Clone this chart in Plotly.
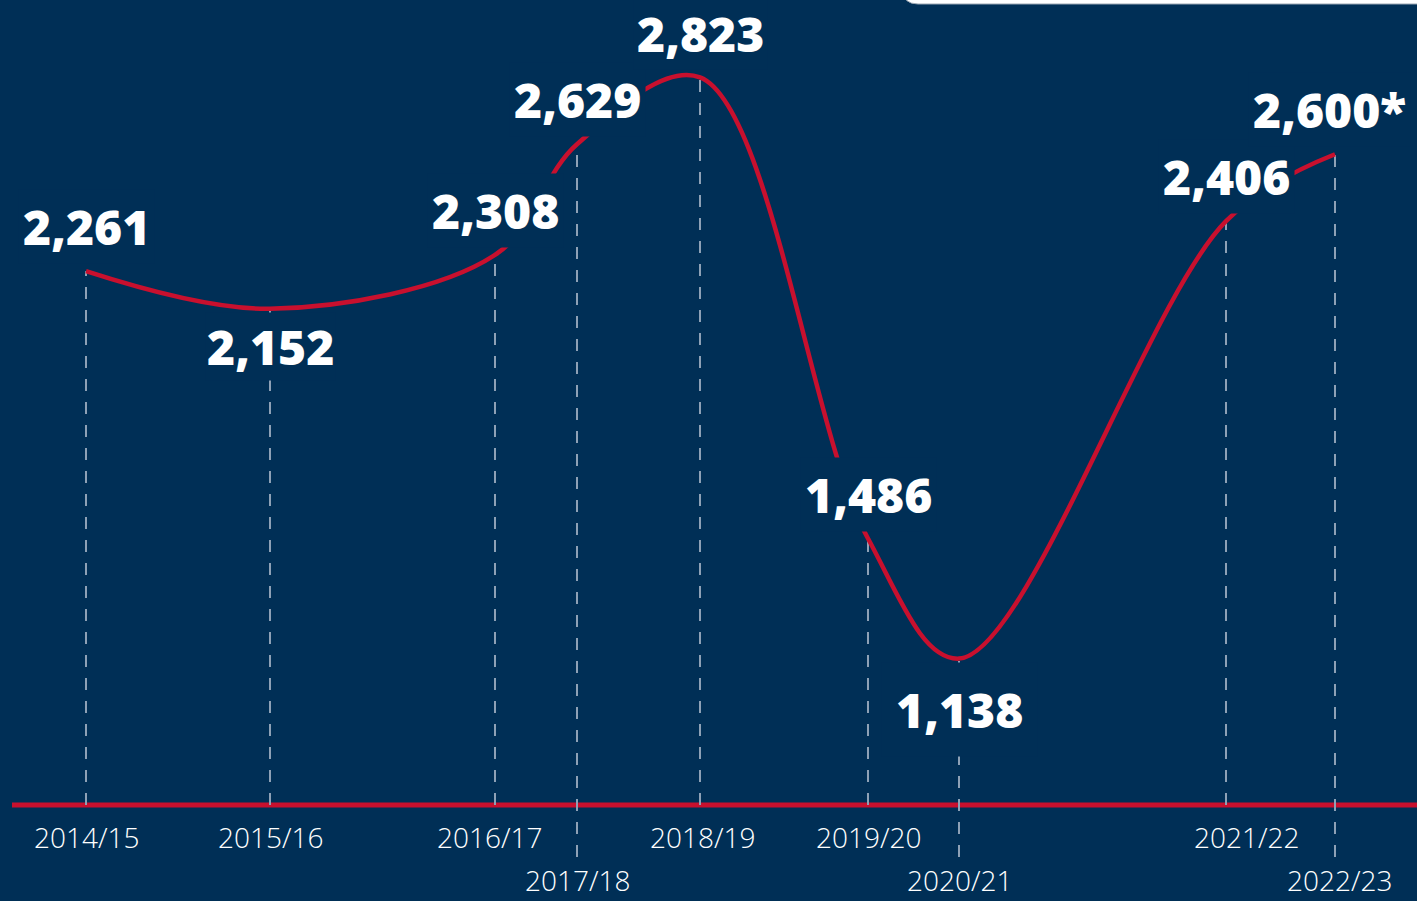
import plotly.graph_objects as go

# data
seasons = ["2014/15", "2015/16", "2016/17", "2017/18", "2018/19",
           "2019/20", "2020/21", "2021/22", "2022/23"]
admissions = [2261, 2152, 2308, 2629, 2823, 1486, 1138, 2406, 2600]
value_labels = ["2,261", "2,152", "2,308", "2,629", "2,823",
                "1,486", "1,138", "2,406", "2,600*"]

# layout helpers (irregular horizontal placement of the infographic)
x_slot = [86, 270, 495, 577, 700, 868, 959, 1226, 1335]
label_side = ["above", "below", "above", "above", "above", "above", "below", "above", "above"]
label_pad = [4, 1, 4, 4, 3, 4, 14, 4, 4]
label_xshift = [0, 0, 0, 0, 0, 0, 0, 0, -6]
tick_row = [0, 0, 0, 1, 0, 0, 1, 0, 1]
tick_xshift = [0, 0, -6, 0, 2, 0, 0, 20, 4]

NAVY = "#002F56"
RED = "#C8102E"
DASH = "#8EA1B6"
W, H = 1417, 901

PX_PER_UNIT = 0.345
Y_MAX = 3047
Y_MIN = Y_MAX - H / PX_PER_UNIT
BASE = Y_MAX - 805 / PX_PER_UNIT
LOW = Y_MAX - 857 / PX_PER_UNIT

fig = go.Figure()

# dashed drop lines
for i, v in enumerate(admissions):
    y0 = LOW if tick_row[i] else BASE
    fig.add_trace(go.Scatter(
        x=[x_slot[i], x_slot[i]], y=[y0, v], mode="lines",
        line=dict(color=DASH, width=2, dash="12px,11px"),
        hoverinfo="skip", cliponaxis=False,
    ))

# the curve
fig.add_trace(go.Scatter(
    x=x_slot, y=admissions, mode="lines",
    line=dict(shape="spline", smoothing=1.0, color=RED, width=4.5),
    hoverinfo="skip", cliponaxis=False,
))

# value labels (background hides the lines behind them)
for i, v in enumerate(admissions):
    above = label_side[i] == "above"
    fig.add_annotation(
        x=x_slot[i], y=v, text=value_labels[i], showarrow=False,
        xanchor="center", yanchor="bottom" if above else "top",
        yshift=7 if above else -3, borderpad=label_pad[i],
        xshift=label_xshift[i],
        bgcolor=NAVY,
        font=dict(family="Open Sans", size=48, color="white", weight=800),
    )

# season labels
for i, s in enumerate(seasons):
    fig.add_annotation(
        x=x_slot[i], xref="x", y=1 - (880 if tick_row[i] else 837) / H, yref="paper",
        text=s, showarrow=False, xanchor="center", yanchor="middle",
        xshift=tick_xshift[i],
        font=dict(family="Open Sans", size=28, color="white", weight=300),
    )

# baseline
fig.add_shape(type="line", x0=12, x1=W, y0=BASE, y1=BASE, xref="x", yref="y",
              line=dict(color=RED, width=5), layer="below")

# white panel peeking in at the top right
def px(x, y):
    return f"{x / W:.5f},{1 - y / H:.5f}"

fig.add_shape(
    type="path", xref="paper", yref="paper",
    path=(f"M {px(903, -20)} L {px(903, -10)} Q {px(903, 4)} {px(918, 4)} "
          f"L {px(W + 5, 4)} L {px(W + 5, -20)} Z"),
    fillcolor="white", line=dict(color="#9AA6B2", width=1), layer="above",
)

fig.update_layout(
    width=W, height=H,
    margin=dict(l=0, r=0, t=0, b=0),
    paper_bgcolor=NAVY, plot_bgcolor=NAVY,
    showlegend=False,
    xaxis=dict(range=[0, W], visible=False, fixedrange=True),
    yaxis=dict(range=[Y_MIN, Y_MAX], visible=False, fixedrange=True),
)

fig.write_html(
    "out.html",
    config={"displayModeBar": False},
    post_script="document.body.style.margin='0';document.body.style.overflow='hidden';",
)
